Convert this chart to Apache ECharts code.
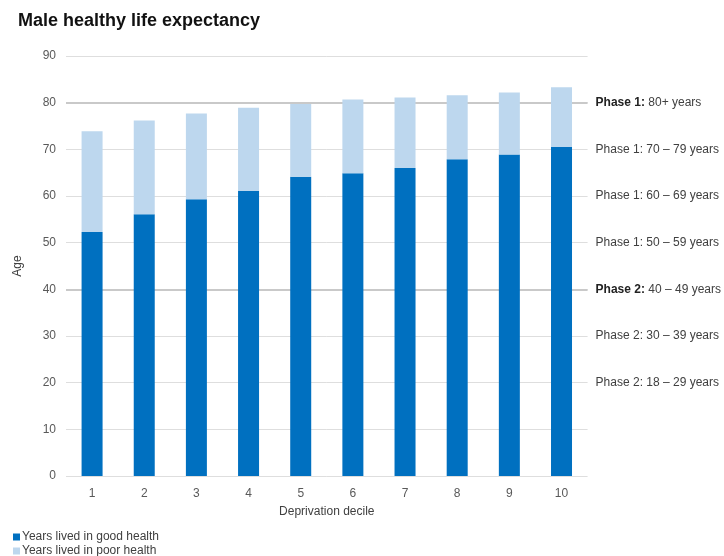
<!DOCTYPE html>
<html>
<head>
<meta charset="utf-8">
<script src="https://cdn.jsdelivr.net/npm/echarts@6/dist/echarts.min.js"></script>
<style>
  html, body { margin: 0; padding: 0; background: #fff; }
  #main { width: 724px; height: 556px; }
</style>
</head>
<body>
<div id="main"></div>
<script>
// deprivation deciles
var deciles = ['1', '2', '3', '4', '5', '6', '7', '8', '9', '10'];
// years lived in good health
var goodHealth = [52.3, 56.1, 59.3, 61.1, 64.1, 64.9, 66.0, 67.9, 68.9, 70.5];
// total life expectancy (top of each bar)
var lifeExp = [73.9, 76.2, 77.7, 78.9, 79.7, 80.7, 81.1, 81.6, 82.2, 83.3];
// years lived in poor health = difference
var poorHealth = lifeExp.map(function (v, i) { return +(v - goodHealth[i]).toFixed(1); });

// labels on the right, keyed by gridline value
var phaseLabels = {
  80: ['Phase 1:', ' 80+ years', true],
  70: ['Phase 1:', ' 70 \u2013 79 years', false],
  60: ['Phase 1:', ' 60 \u2013 69 years', false],
  50: ['Phase 1:', ' 50 \u2013 59 years', false],
  40: ['Phase 2:', ' 40 \u2013 49 years', true],
  30: ['Phase 2:', ' 30 \u2013 39 years', false],
  20: ['Phase 2:', ' 18 \u2013 29 years', false]
};

var chart = echarts.init(document.getElementById('main'));
var font = 'Liberation Sans, Arial, sans-serif';
var legendText = { fontSize: 12, color: '#404040', padding: [0, 0, 0, -3] };

var option = {
  animation: false,
  textStyle: { fontFamily: font },
  title: {
    text: 'Male healthy life expectancy',
    left: 13, top: 7,
    textStyle: { fontSize: 18, fontWeight: 'bold', color: '#111', fontFamily: font }
  },
  legend: [{
    left: 8, top: 526,
    itemWidth: 7, itemHeight: 7,
    icon: 'rect',
    textStyle: legendText,
    data: ['Years lived in good health']
  }, {
    left: 8, top: 540,
    itemWidth: 7, itemHeight: 7,
    icon: 'rect',
    textStyle: legendText,
    data: ['Years lived in poor health']
  }],
  grid: { left: 66, right: 136, top: 56, bottom: 80 },
  xAxis: {
    type: 'category',
    data: deciles,
    name: 'Deprivation decile',
    nameLocation: 'middle',
    nameGap: 30,
    nameTextStyle: { fontSize: 12, color: '#404040' },
    axisLine: { show: false },
    axisTick: { show: false },
    axisLabel: { fontSize: 12, color: '#595959', margin: 12 }
  },
  yAxis: [{
    type: 'value',
    min: 0, max: 90, interval: 10,
    name: 'Age',
    nameLocation: 'middle',
    nameGap: 42,
    nameTextStyle: { fontSize: 12, color: '#404040' },
    axisLine: { show: false },
    axisTick: { show: false },
    axisLabel: { fontSize: 12, color: '#595959', margin: 10 },
    splitLine: { lineStyle: { color: '#dedede', width: 1 } }
  }, {
    type: 'value',
    min: 0, max: 90, interval: 10,
    position: 'right',
    axisLine: { show: false },
    axisTick: { show: false },
    splitLine: { show: false },
    axisLabel: {
      margin: 8,
      fontSize: 12,
      color: '#404040',
      formatter: function (v) {
        var p = phaseLabels[v];
        if (!p) return '';
        return (p[2] ? '{b|' + p[0] + '}' : p[0]) + p[1];
      },
      rich: { b: { fontWeight: 'bold', fontSize: 12, color: '#222' } }
    }
  }, {
    // heavier lines at 40 and 80 (phase boundaries)
    type: 'value',
    min: 0, max: 90, interval: 40,
    position: 'right',
    axisLine: { show: false },
    axisTick: { show: false },
    axisLabel: { show: false },
    splitLine: { lineStyle: { color: ['transparent', '#c9c9c9', '#c9c9c9', 'transparent'], width: 2 } }
  }],
  series: [{
    name: 'Years lived in good health',
    type: 'bar',
    stack: 'total',
    barWidth: 21,
    itemStyle: { color: '#0070c0' },
    data: goodHealth
  }, {
    name: 'Years lived in poor health',
    type: 'bar',
    stack: 'total',
    barWidth: 21,
    itemStyle: { color: '#bdd7ee' },
    data: poorHealth
  }]
};

chart.setOption(option);
</script>
</body>
</html>
